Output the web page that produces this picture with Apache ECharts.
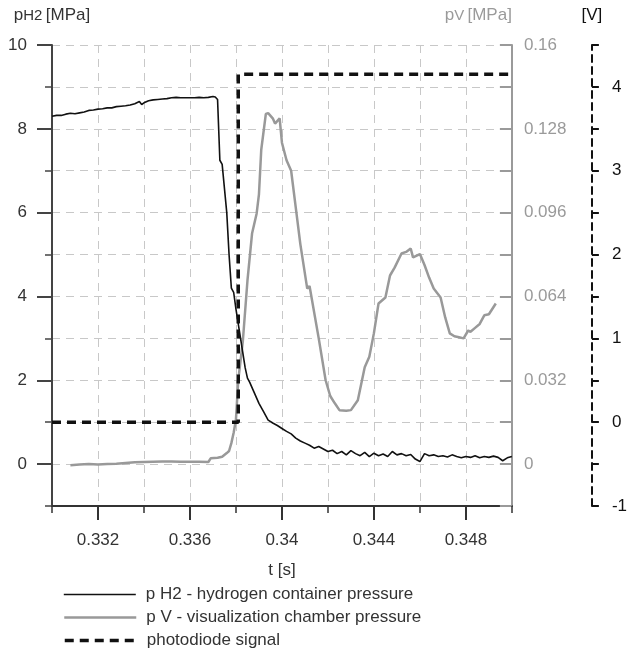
<!DOCTYPE html>
<html><head><meta charset="utf-8">
<script src="https://cdn.jsdelivr.net/npm/echarts@6/dist/echarts.min.js"></script>
<style>html,body{margin:0;padding:0;background:#fff}#c{width:630px;height:651px}</style>
</head><body><div id="c"></div>
<script>
// hydrogen container pressure [MPa]
const tH2 = [0.3300,0.3302,0.3304,0.3306,0.3308,0.3310,0.3312,0.3314,0.3316,0.3318,0.3320,0.3322,0.3324,0.3326,0.3328,0.3330,0.3332,0.3334,0.3336,0.3338,0.3339,0.3340,0.3342,0.3344,0.3346,0.3348,0.3350,0.3352,0.3354,0.3356,0.3358,0.3360,0.3362,0.3364,0.3366,0.3368,0.3370,0.3371,0.3372,0.3373,0.3374,0.3376,0.3377,0.3378,0.3379,0.3380,0.3382,0.3384,0.3385,0.3386,0.3388,0.3390,0.3392,0.3394,0.3396,0.3398,0.3400,0.3402,0.3404,0.3406,0.3408,0.3410,0.3412,0.3414,0.3416,0.3418,0.3420,0.3422,0.3424,0.3426,0.3428,0.3430,0.3432,0.3434,0.3436,0.3438,0.3440,0.3442,0.3444,0.3446,0.3448,0.3450,0.3452,0.3454,0.3456,0.3458,0.3460,0.3462,0.3464,0.3466,0.3468,0.3470,0.3472,0.3474,0.3476,0.3478,0.3480,0.3482,0.3484,0.3486,0.3488,0.3490,0.3492,0.3494,0.3496,0.3498,0.3500];
const pH2 = [8.30,8.32,8.32,8.35,8.37,8.36,8.38,8.40,8.44,8.45,8.47,8.48,8.50,8.50,8.53,8.54,8.55,8.57,8.60,8.65,8.58,8.62,8.67,8.69,8.70,8.71,8.72,8.74,8.75,8.74,8.74,8.74,8.74,8.75,8.74,8.75,8.77,8.76,8.70,7.25,7.15,6.00,5.00,4.20,4.10,3.70,3.00,2.30,2.05,1.95,1.70,1.45,1.25,1.05,0.98,0.92,0.85,0.78,0.72,0.62,0.55,0.50,0.45,0.38,0.42,0.36,0.30,0.33,0.25,0.30,0.22,0.32,0.25,0.20,0.28,0.18,0.26,0.20,0.24,0.18,0.30,0.22,0.25,0.20,0.23,0.12,0.06,0.25,0.20,0.22,0.18,0.20,0.17,0.22,0.18,0.15,0.18,0.16,0.20,0.15,0.18,0.16,0.19,0.16,0.08,0.15,0.18];
// visualization chamber pressure [MPa]
const tV = [0.3308,0.3312,0.3316,0.3320,0.3324,0.3328,0.3332,0.3336,0.3340,0.3344,0.3348,0.3352,0.3356,0.3360,0.3364,0.3368,0.3369,0.3372,0.3374,0.3376,0.3377,0.3378,0.3379,0.3380,0.3381,0.3383,0.3385,0.3387,0.3389,0.3390,0.3391,0.3393,0.3394,0.3396,0.3397,0.3399,0.3400,0.3402,0.3404,0.3406,0.3408,0.3411,0.3412,0.3416,0.3419,0.3421,0.3423,0.3425,0.3428,0.3430,0.3433,0.3436,0.3438,0.3440,0.3442,0.3445,0.3447,0.3449,0.3452,0.3454,0.3456,0.3457,0.3460,0.3462,0.3464,0.3466,0.3469,0.3471,0.3473,0.3475,0.3477,0.3479,0.3481,0.3482,0.3484,0.3486,0.3488,0.3490,0.3493];
const pV = [-0.0004,-0.0002,0.0000,-0.0002,0.0000,0.0001,0.0004,0.0007,0.0008,0.0009,0.0010,0.0010,0.0009,0.0009,0.0009,0.0008,0.0022,0.0024,0.0028,0.0042,0.0050,0.0080,0.0120,0.0170,0.0320,0.0470,0.0700,0.0880,0.0957,0.1030,0.1200,0.1337,0.1340,0.1320,0.1300,0.1320,0.1227,0.1160,0.1120,0.0980,0.0840,0.0670,0.0680,0.0480,0.0320,0.0260,0.0232,0.0206,0.0204,0.0206,0.0244,0.0370,0.0410,0.0500,0.0613,0.0636,0.0720,0.0750,0.0804,0.0810,0.0823,0.0789,0.0802,0.0760,0.0712,0.0670,0.0636,0.0560,0.0499,0.0488,0.0484,0.0480,0.0510,0.0505,0.0520,0.0535,0.0568,0.0572,0.0613];
// photodiode signal [V]
const tPhoto = [0.3300,0.3381,0.3381,0.3500];
const uPhoto = [0,0,4.15,4.15];

const xTickLabels = [0.332,0.336,0.34,0.344,0.348];
const pH2TickLabels = [0,2,4,6,8,10];
const pVTickLabels = [0,0.032,0.064,0.096,0.128,0.16];
const uTickLabels = [-1,0,1,2,3,4];
const seriesNames = ['p H2 - hydrogen container pressure','p V - visualization chamber pressure','photodiode signal'];

const FONT = "'Liberation Sans', Arial, sans-serif";
const FS = 17;
const zip = (a, b) => a.map((v, i) => [v, b[i]]);
const fmt = v => String(+(+v).toFixed(3));
const dark = '#333', grayAxis = '#9a9a9a';
const split = {show:true, lineStyle:{color:'#c8c8c8', type:[8,6], width:1}};
const legendRow = (name, top) => ({
  orient:'horizontal', left:63, top:top, padding:0,
  itemWidth:72, itemHeight:14,
  itemStyle:{opacity:0},
  lineStyle:{width:'inherit'},
  textStyle:{fontSize:FS, color:dark, fontFamily:FONT, padding:[0,0,0,5]},
  data:[name]
});

const chart = echarts.init(document.getElementById('c'), null, {renderer:'canvas'});
chart.setOption({
  animation:false,
  backgroundColor:'#fff',
  textStyle:{fontFamily:FONT},
  grid:{left:52, right:115, top:45, bottom:145},
  xAxis:[{
    type:'value', min:0.330, max:0.350, interval:0.002,
    name:'t [s]', nameLocation:'middle', nameGap:56,
    nameTextStyle:{fontSize:FS, color:dark, fontFamily:FONT},
    axisLine:{show:true, onZero:false, lineStyle:{color:dark, width:2}},
    axisTick:{show:true, length:7, lineStyle:{color:dark, width:1.5}},
    axisLabel:{customValues:xTickLabels, formatter:fmt, margin:26, fontSize:FS, color:dark, fontFamily:FONT},
    splitLine:split
  },{
    type:'value', min:0.330, max:0.350, position:'bottom',
    axisLine:{show:false, onZero:false}, splitLine:{show:false}, axisLabel:{show:false},
    axisTick:{show:true, customValues:xTickLabels, length:14, lineStyle:{color:dark, width:2}}
  }],
  yAxis:[{
    type:'value', min:-1, max:10, interval:1, position:'left',
    name:'{a|p}{b|H2} {a|[MPa]}', nameLocation:'end', nameGap:21,
    nameTextStyle:{color:dark, rich:{a:{fontSize:FS, color:dark, fontFamily:FONT}, b:{fontSize:15, color:dark, fontFamily:FONT}}},
    axisLine:{show:true, onZero:false, lineStyle:{color:'#444', width:2}},
    axisTick:{show:true, length:7, lineStyle:{color:'#444', width:1.5}},
    axisLabel:{customValues:pH2TickLabels, margin:25, fontSize:FS, color:dark, fontFamily:FONT},
    splitLine:split
  },{
    type:'value', min:-0.016, max:0.16, interval:0.016, position:'right',
    name:'{a|p}{b|V} {a|[MPa]}', nameLocation:'end', nameGap:21,
    nameTextStyle:{align:'right', color:grayAxis, rich:{a:{fontSize:FS, color:grayAxis, fontFamily:FONT}, b:{fontSize:15, color:grayAxis, fontFamily:FONT}}},
    axisLine:{show:true, onZero:false, lineStyle:{color:grayAxis, width:2}},
    axisTick:{show:true, inside:true, length:12, lineStyle:{color:grayAxis, width:2}},
    axisLabel:{customValues:pVTickLabels, formatter:fmt, margin:12, fontSize:FS, color:grayAxis, fontFamily:FONT},
    splitLine:{show:false}
  },{
    type:'value', min:-1, max:4.5, interval:0.5, position:'right', offset:80,
    name:'[V]', nameLocation:'end', nameGap:21,
    nameTextStyle:{fontSize:FS, color:'#111', fontFamily:FONT},
    axisLine:{show:true, onZero:false, lineStyle:{color:'#111', width:2, type:[7,5]}},
    axisTick:{show:true, length:7, lineStyle:{color:'#111', width:2}},
    axisLabel:{customValues:uTickLabels, margin:20, fontSize:FS, color:'#111', fontFamily:FONT},
    splitLine:{show:false}
  },{
    type:'value', min:-1, max:10, position:'left',
    axisLine:{show:false, onZero:false}, splitLine:{show:false}, axisLabel:{show:false},
    axisTick:{show:true, customValues:pH2TickLabels, length:15, lineStyle:{color:'#444', width:2}}
  }],
  legend:[legendRow(seriesNames[0], 586), legendRow(seriesNames[1], 609), legendRow(seriesNames[2], 632)],
  series:[{
    name:seriesNames[1], type:'line', xAxisIndex:0, yAxisIndex:1,
    data:zip(tV, pV), symbol:'none', z:2,
    lineStyle:{color:'#999', width:2.5}, itemStyle:{color:'#999'}
  },{
    name:seriesNames[0], type:'line', xAxisIndex:0, yAxisIndex:0,
    data:zip(tH2, pH2), symbol:'none', z:3,
    lineStyle:{color:'#111', width:1.6}, itemStyle:{color:'#111'}
  },{
    name:seriesNames[2], type:'line', xAxisIndex:0, yAxisIndex:2,
    data:zip(tPhoto, uPhoto), symbol:'none', z:4,
    lineStyle:{color:'#111', width:3.5, type:[9,6]}, itemStyle:{color:'#111'}
  }]
});
</script></body></html>
